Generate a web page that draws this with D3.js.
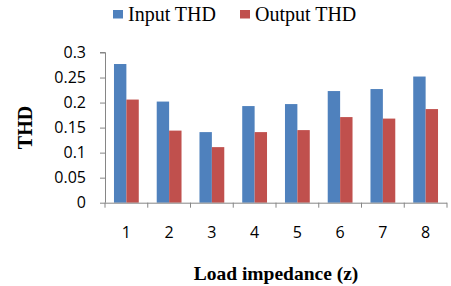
<!DOCTYPE html>
<html><head><meta charset="utf-8">
<script src="https://cdn.jsdelivr.net/npm/d3@7"></script>
<style>body{margin:0;background:#fff}svg{display:block}</style>
</head><body>
<script>
const categories = ["1","2","3","4","5","6","7","8"];
const inputTHD  = [0.277,0.202,0.141,0.193,0.197,0.223,0.227,0.252];
const outputTHD = [0.206,0.144,0.111,0.141,0.145,0.171,0.168,0.187];
const seriesNames = ["Input THD","Output THD"];
const yTicks = [0,0.05,0.1,0.15,0.2,0.25,0.3];
const colors = ["#4F81BD","#C0504D"];

(function(){
const W=451,H=286;
const svg=d3.select("body").append("svg").attr("width",W).attr("height",H);
const mL=105,mR=447,mT=52.5,mB=202.7;
const x=d3.scaleBand().domain(categories).range([mL,mR]).paddingInner(0.42).paddingOuter(0.21);
const x1=d3.scaleBand().domain(seriesNames).range([0,x.bandwidth()]);
const y=d3.scaleLinear().domain([0,0.3]).range([mB,mT]);

const series=[inputTHD,outputTHD];
series.forEach((vals,si)=>{
  svg.append("g").selectAll("rect").data(vals).join("rect")
    .attr("x",(d,i)=>x(categories[i])+x1(seriesNames[si]))
    .attr("y",d=>y(d)).attr("width",x1.bandwidth()).attr("height",d=>y(0)-y(d))
    .attr("fill",colors[si]);
});

const axisColor="#868686";
const tickFont="'Open Sans','Liberation Sans',sans-serif";
const ya=svg.append("g").attr("transform",`translate(${mL},0)`)
  .call(d3.axisLeft(y).tickValues(yTicks).tickSize(5).tickFormat(d=>d===0?"0":String(d)).tickPadding(14));
ya.select(".domain").attr("stroke",axisColor).attr("d",`M-5,${mT}H0.5V${mB}`);
ya.selectAll(".tick line").attr("stroke",axisColor);
ya.selectAll(".tick text").attr("font-family",tickFont).attr("font-size",16).attr("fill","#000");
const xa=svg.append("g").attr("transform",`translate(0,${mB})`)
  .call(d3.axisBottom(x).tickSize(0).tickPadding(24));
xa.select(".domain").attr("stroke",axisColor).attr("d",`M${mL},0.5H${mR}`);
xa.selectAll(".tick text").attr("font-family",tickFont).attr("font-size",16).attr("fill","#000");
const step=(mR-mL)/categories.length;
svg.append("g").selectAll("line").data(d3.range(categories.length+1)).join("line")
  .attr("x1",i=>mL+i*step).attr("x2",i=>mL+i*step)
  .attr("y1",mB).attr("y2",mB+5).attr("stroke",axisColor);

svg.append("text").attr("x",276).attr("y",280).attr("text-anchor","middle")
  .attr("font-family","'Liberation Serif',serif").attr("font-weight","bold").attr("font-size",19.5)
  .text("Load impedance (z)");
svg.append("text").attr("transform","translate(32,127.5) rotate(-90)").attr("text-anchor","middle")
  .attr("font-family","'Liberation Serif',serif").attr("font-weight","bold").attr("font-size",20)
  .text("THD");

const lg=svg.append("g");
const lx=[113,240];
seriesNames.forEach((n,i)=>{
  lg.append("rect").attr("x",lx[i]).attr("y",10).attr("width",10).attr("height",8.5).attr("fill",colors[i]);
  lg.append("text").attr("x",lx[i]+15).attr("y",20.5).attr("font-family","'Liberation Serif',serif")
    .attr("font-size",20).text(n);
});
})();
</script>
</body></html>
